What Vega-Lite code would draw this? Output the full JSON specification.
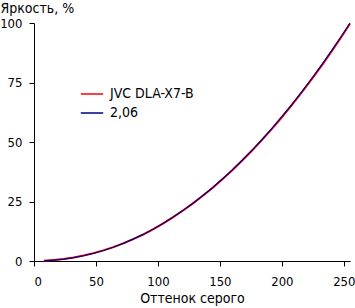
{
  "$schema": "https://vega.github.io/schema/vega-lite/v6.json",
  "width": 316,
  "height": 238,
  "autosize": "none",
  "padding": {"left": 34, "top": 23, "right": 5, "bottom": 47},
  "background": "white",
  "config": {
    "view": {"stroke": null},
    "font": "'DejaVu Sans Condensed', 'Liberation Sans', sans-serif",
    "axis": {
      "grid": false,
      "domainColor": "black",
      "domainWidth": 1,
      "tickColor": "black",
      "tickSize": 5,
      "labelColor": "black",
      "labelFont": "'DejaVu Sans Condensed', 'Liberation Sans', sans-serif",
      "labelFontSize": 13,
      "titleColor": "black",
      "titleFont": "'DejaVu Sans Condensed', 'Liberation Sans', sans-serif",
      "titleFontSize": 14,
      "titleFontWeight": "normal"
    }
  },
  "data": {
    "values": [
      {"x": 8, "y": 0.10, "s": "JVC DLA-X7-B"},
      {"x": 16, "y": 0.45, "s": "JVC DLA-X7-B"},
      {"x": 24, "y": 0.85, "s": "JVC DLA-X7-B"},
      {"x": 32, "y": 1.45, "s": "JVC DLA-X7-B"},
      {"x": 40, "y": 2.3, "s": "JVC DLA-X7-B"},
      {"x": 48, "y": 3.3, "s": "JVC DLA-X7-B"},
      {"x": 56, "y": 4.45, "s": "JVC DLA-X7-B"},
      {"x": 64, "y": 5.85, "s": "JVC DLA-X7-B"},
      {"x": 72, "y": 7.4, "s": "JVC DLA-X7-B"},
      {"x": 80, "y": 9.2, "s": "JVC DLA-X7-B"},
      {"x": 88, "y": 11.1, "s": "JVC DLA-X7-B"},
      {"x": 96, "y": 13.3, "s": "JVC DLA-X7-B"},
      {"x": 104, "y": 15.7, "s": "JVC DLA-X7-B"},
      {"x": 112, "y": 18.3, "s": "JVC DLA-X7-B"},
      {"x": 120, "y": 21.1, "s": "JVC DLA-X7-B"},
      {"x": 128, "y": 24.1, "s": "JVC DLA-X7-B"},
      {"x": 136, "y": 27.3, "s": "JVC DLA-X7-B"},
      {"x": 144, "y": 30.7, "s": "JVC DLA-X7-B"},
      {"x": 152, "y": 34.3, "s": "JVC DLA-X7-B"},
      {"x": 160, "y": 38.1, "s": "JVC DLA-X7-B"},
      {"x": 168, "y": 42.2, "s": "JVC DLA-X7-B"},
      {"x": 176, "y": 46.4, "s": "JVC DLA-X7-B"},
      {"x": 184, "y": 50.9, "s": "JVC DLA-X7-B"},
      {"x": 192, "y": 55.5, "s": "JVC DLA-X7-B"},
      {"x": 200, "y": 60.4, "s": "JVC DLA-X7-B"},
      {"x": 208, "y": 65.5, "s": "JVC DLA-X7-B"},
      {"x": 216, "y": 70.8, "s": "JVC DLA-X7-B"},
      {"x": 224, "y": 76.3, "s": "JVC DLA-X7-B"},
      {"x": 232, "y": 82.0, "s": "JVC DLA-X7-B"},
      {"x": 240, "y": 87.9, "s": "JVC DLA-X7-B"},
      {"x": 248, "y": 94.1, "s": "JVC DLA-X7-B"},
      {"x": 255, "y": 99.7, "s": "JVC DLA-X7-B"},
      {"x": 8, "y": 0.08, "s": "2,06"},
      {"x": 16, "y": 0.33, "s": "2,06"},
      {"x": 24, "y": 0.77, "s": "2,06"},
      {"x": 32, "y": 1.39, "s": "2,06"},
      {"x": 40, "y": 2.20, "s": "2,06"},
      {"x": 48, "y": 3.21, "s": "2,06"},
      {"x": 56, "y": 4.40, "s": "2,06"},
      {"x": 64, "y": 5.80, "s": "2,06"},
      {"x": 72, "y": 7.39, "s": "2,06"},
      {"x": 80, "y": 9.18, "s": "2,06"},
      {"x": 88, "y": 11.17, "s": "2,06"},
      {"x": 96, "y": 13.37, "s": "2,06"},
      {"x": 104, "y": 15.76, "s": "2,06"},
      {"x": 112, "y": 18.37, "s": "2,06"},
      {"x": 120, "y": 21.17, "s": "2,06"},
      {"x": 128, "y": 24.18, "s": "2,06"},
      {"x": 136, "y": 27.39, "s": "2,06"},
      {"x": 144, "y": 30.81, "s": "2,06"},
      {"x": 152, "y": 34.45, "s": "2,06"},
      {"x": 160, "y": 38.28, "s": "2,06"},
      {"x": 168, "y": 42.33, "s": "2,06"},
      {"x": 176, "y": 46.59, "s": "2,06"},
      {"x": 184, "y": 51.06, "s": "2,06"},
      {"x": 192, "y": 55.74, "s": "2,06"},
      {"x": 200, "y": 60.62, "s": "2,06"},
      {"x": 208, "y": 65.73, "s": "2,06"},
      {"x": 216, "y": 71.04, "s": "2,06"},
      {"x": 224, "y": 76.57, "s": "2,06"},
      {"x": 232, "y": 82.31, "s": "2,06"},
      {"x": 240, "y": 88.26, "s": "2,06"},
      {"x": 248, "y": 94.43, "s": "2,06"},
      {"x": 255, "y": 100.0, "s": "2,06"}
    ]
  },
  "encoding": {
    "x": {
      "field": "x",
      "type": "quantitative",
      "scale": {"domain": [0, 255], "nice": false, "zero": true},
      "axis": {
        "values": [0, 50, 100, 150, 200, 250],
        "title": "Оттенок серого",
        "labelPadding": 9,
        "titlePadding": 3
      }
    },
    "y": {
      "field": "y",
      "type": "quantitative",
      "scale": {"domain": [0, 100], "nice": false},
      "axis": {
        "values": [0, 25, 50, 75, 100],
        "title": "Яркость, %",
        "titleAngle": 0,
        "titleAlign": "left",
        "titleBaseline": "alphabetic",
        "titleX": -34,
        "titleY": -11,
        "labelPadding": 7
      }
    },
    "color": {
      "field": "s",
      "type": "nominal",
      "sort": ["JVC DLA-X7-B", "2,06"],
      "scale": {"domain": ["JVC DLA-X7-B", "2,06"], "range": ["#ff0000", "#000080"]},
      "legend": {
        "title": null,
        "orient": "none",
        "legendX": 46,
        "legendY": 59,
        "padding": 0,
        "symbolType": "stroke",
        "symbolSize": 500,
        "symbolStrokeWidth": 1.5,
        "rowPadding": 0,
        "labelOffset": 6,
        "labelFont": "'DejaVu Sans Condensed', 'Liberation Sans', sans-serif",
        "labelFontSize": 14,
        "labelColor": "black"
      }
    },
    "order": {"field": "x", "type": "quantitative"}
  },
  "layer": [
    {
      "transform": [{"filter": "datum.s === 'JVC DLA-X7-B'"}],
      "mark": {"type": "line", "strokeWidth": 2}
    },
    {
      "transform": [{"filter": "datum.s === '2,06'"}],
      "mark": {"type": "line", "strokeWidth": 1.2}
    }
  ]
}
